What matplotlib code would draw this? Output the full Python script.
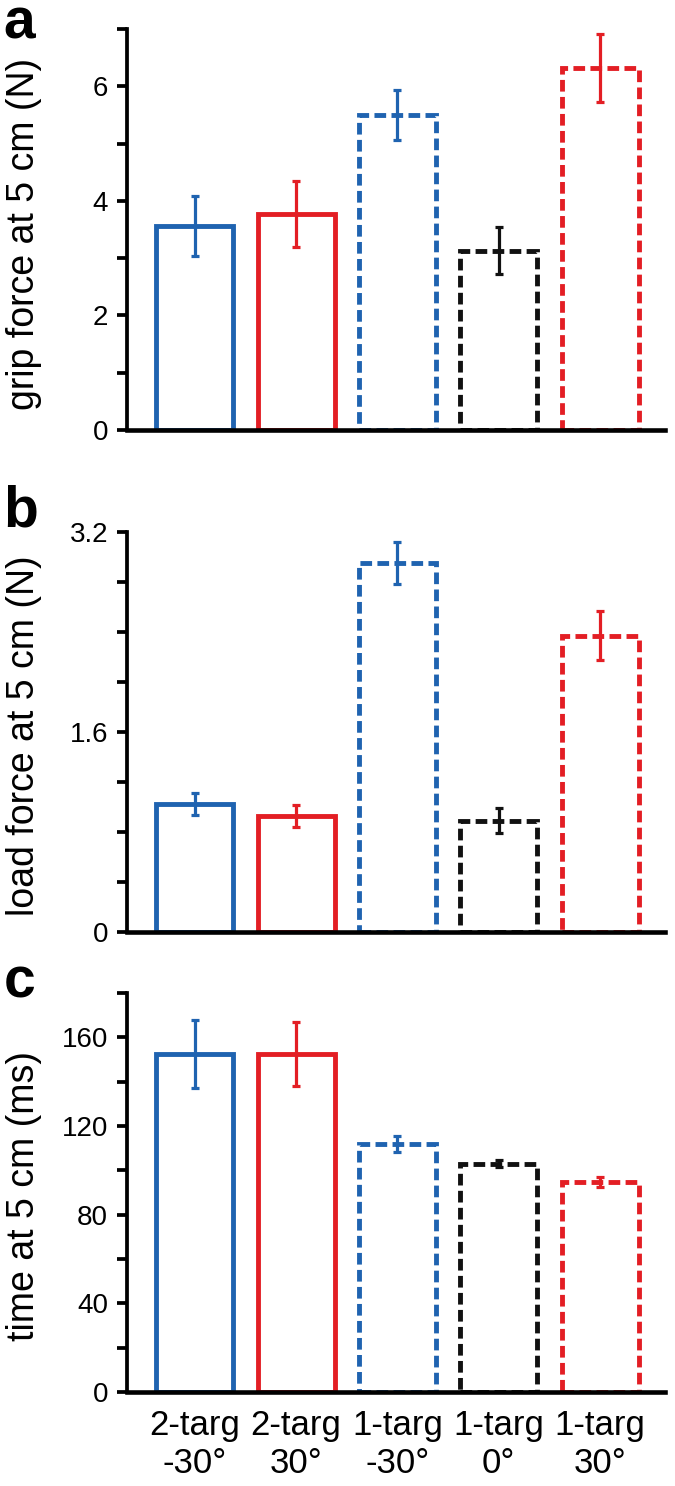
import matplotlib
matplotlib.use('Agg')
import matplotlib.pyplot as plt
import numpy as np
from matplotlib import rcParams

rcParams['font.family'] = ['Liberation Sans', 'DejaVu Sans']

conditions = ['2-targ\n-30°', '2-targ\n30°', '1-targ\n-30°', '1-targ\n0°', '1-targ\n30°']
colors = ['#1f63b0', '#e31e24', '#1f63b0', '#111111', '#e31e24']
dashed = [False, False, True, True, True]

grip_mean = [3.56, 3.77, 5.50, 3.13, 6.32]
grip_err = [0.52, 0.58, 0.43, 0.41, 0.59]

load_mean = [1.025, 0.93, 2.95, 0.89, 2.37]
load_err = [0.09, 0.09, 0.17, 0.10, 0.195]

time_mean = [152.5, 152.5, 112.0, 103.0, 94.8]
time_err = [15.3, 14.4, 3.6, 1.7, 2.2]

panels = [
    ('a', grip_mean, grip_err, 'grip force at 5 cm (N)', 7, 1, [0, 2, 4, 6], ['0', '2', '4', '6']),
    ('b', load_mean, load_err, 'load force at 5 cm (N)', 3.2, 0.4, [0, 1.6, 3.2], ['0', '1.6', '3.2']),
    ('c', time_mean, time_err, 'time at 5 cm (ms)', 180, 20, [0, 40, 80, 120, 160], ['0', '40', '80', '120', '160']),
]
positions = [
    [0.188, 0.7106, 0.797, 0.2699],
    [0.188, 0.3728, 0.797, 0.2692],
    [0.188, 0.0633, 0.797, 0.2685],
]
letter_y = [0.9744, 0.6454, 0.3284]

fig = plt.figure(figsize=(6.75, 14.86), dpi=100)
x = np.arange(len(conditions))

for (letter, mean, err, ylab, ytop, minor, major, majlab), pos, ly in zip(panels, positions, letter_y):
    ax = fig.add_axes(pos)
    for i in range(len(x)):
        ls = (0, (2.4, 1.1)) if dashed[i] else '-'
        ax.bar(x[i], mean[i], width=0.76, fill=False, edgecolor=colors[i],
               linewidth=3.5, linestyle=ls, zorder=2)
        ax.errorbar(x[i], mean[i], yerr=err[i], color=colors[i], elinewidth=2.3,
                    capsize=3, capthick=2.3, fmt='none', zorder=3)
    ax.set_xlim(-0.67, 4.64)
    ax.set_ylim(0, ytop)
    ax.spines['top'].set_visible(False)
    ax.spines['right'].set_visible(False)
    ax.spines['left'].set_linewidth(2.7)
    ax.spines['bottom'].set_linewidth(3.3)
    ax.spines['bottom'].set_zorder(4)

    # minor ticks carry no label, major ones do
    ticks = np.arange(0, ytop + minor / 2, minor)
    labels = [next((l for m, l in zip(major, majlab) if abs(v - m) < 1e-6), '') for v in ticks]
    ax.set_yticks(ticks)
    ax.set_yticklabels(labels)
    ax.tick_params(axis='y', direction='out', length=7.5, width=2.7, labelsize=20, pad=6)
    ax.set_ylabel(ylab, fontsize=27)
    ax.yaxis.set_label_coords(-0.158, 0.49)

    ax.set_xticks(x)
    if letter == 'c':
        ax.set_xticklabels(conditions, fontsize=25, linespacing=1.2)
        ax.tick_params(axis='x', length=0, pad=12)
    else:
        ax.set_xticklabels([])
        ax.tick_params(axis='x', length=0)
    fig.text(0.005, ly, letter, fontsize=41, fontweight='bold',
             va='baseline', ha='left')

fig.savefig('out.png', dpi=100)
